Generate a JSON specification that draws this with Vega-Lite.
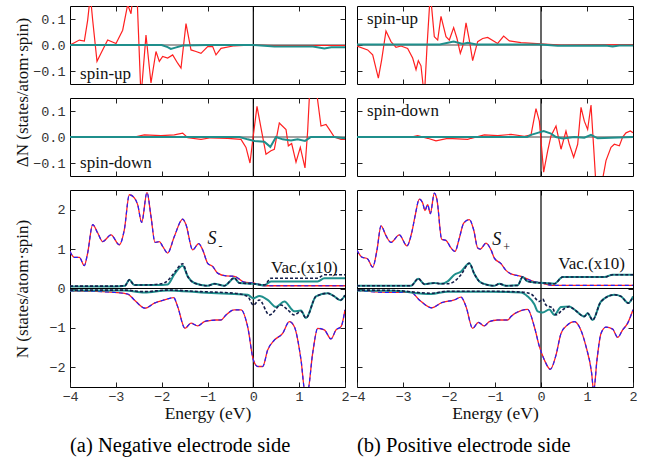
{
"$schema":"https://vega.github.io/schema/vega-lite/v6.json",
"padding":{"left":12,"top":4,"right":5,"bottom":5},
"autosize":{"type":"pad"},
"spacing":-2,
"config":{
 "view":{"stroke":"#000","strokeWidth":1},
 "axis":{"domain":false,"grid":false,"tickSize":-5,"tickColor":"#222","tickWidth":1,"labelFont":"Liberation Mono","labelFontSize":13.5,"labelColor":"#333","labelPadding":10,"labelFlush":false,"labelOverlap":false,"titleFont":"Liberation Serif","titleFontSize":17,"titleFontWeight":"normal","titleColor":"#111"},
 "text":{"font":"Liberation Serif","color":"#111"},
 "title":{"font":"Liberation Serif","fontSize":20.5,"fontWeight":"normal","color":"#000"}
},
"datasets":{"d":[
{"p":"LT","s":"S","x":-4,"y":0},{"p":"LT","s":"S","x":-3.905,"y":0.009},{"p":"LT","s":"S","x":-3.796,"y":0.019},{"p":"LT","s":"S","x":-3.687,"y":0.015},{"p":"LT","s":"S","x":-3.615,"y":0.095},{"p":"LT","s":"S","x":-3.556,"y":0.19},{"p":"LT","s":"S","x":-3.505,"y":0.095},{"p":"LT","s":"S","x":-3.411,"y":-0.063},{"p":"LT","s":"S","x":-3.324,"y":-0.032},{"p":"LT","s":"S","x":-3.178,"y":0.019},{"p":"LT","s":"S","x":-2.996,"y":0.006},{"p":"LT","s":"S","x":-2.851,"y":0.057},{"p":"LT","s":"S","x":-2.742,"y":0.155},{"p":"LT","s":"S","x":-2.669,"y":0.12},{"p":"LT","s":"S","x":-2.62,"y":0.2},{"p":"LT","s":"S","x":-2.54,"y":0.2},{"p":"LT","s":"S","x":-2.451,"y":-0.2},{"p":"LT","s":"S","x":-2.342,"y":0.038},{"p":"LT","s":"S","x":-2.233,"y":-0.146},{"p":"LT","s":"S","x":-2.124,"y":-0.025},{"p":"LT","s":"S","x":-2.051,"y":-0.063},{"p":"LT","s":"S","x":-1.978,"y":-0.044},{"p":"LT","s":"S","x":-1.869,"y":-0.05},{"p":"LT","s":"S","x":-1.76,"y":-0.038},{"p":"LT","s":"S","x":-1.651,"y":-0.07},{"p":"LT","s":"S","x":-1.578,"y":-0.089},{"p":"LT","s":"S","x":-1.469,"y":0.082},{"p":"LT","s":"S","x":-1.36,"y":-0.019},{"p":"LT","s":"S","x":-1.251,"y":-0.025},{"p":"LT","s":"S","x":-1.142,"y":-0.032},{"p":"LT","s":"S","x":-0.996,"y":-0.006},{"p":"LT","s":"S","x":-0.887,"y":-0.006},{"p":"LT","s":"S","x":-0.815,"y":-0.038},{"p":"LT","s":"S","x":-0.705,"y":-0.013},{"p":"LT","s":"S","x":-0.415,"y":-0.003},{"p":"LT","s":"S","x":0,"y":0},{"p":"LT","s":"S","x":0.458,"y":-0.002},{"p":"LT","s":"S","x":2,"y":-0.002},
{"p":"LT","s":"V","x":-4,"y":0},{"p":"LT","s":"V","x":-2,"y":0},{"p":"LT","s":"V","x":-1.87,"y":-0.008},{"p":"LT","s":"V","x":-1.8,"y":-0.015},{"p":"LT","s":"V","x":-1.7,"y":-0.01},{"p":"LT","s":"V","x":-1.54,"y":-0.002},{"p":"LT","s":"V","x":-1,"y":0},{"p":"LT","s":"V","x":0,"y":0},{"p":"LT","s":"V","x":0.46,"y":-0.006},{"p":"LT","s":"V","x":1.3,"y":-0.006},{"p":"LT","s":"V","x":1.55,"y":-0.013},{"p":"LT","s":"V","x":1.7,"y":-0.009},{"p":"LT","s":"V","x":2,"y":-0.009},
{"p":"LM","s":"S","x":-4,"y":0},{"p":"LM","s":"S","x":-2.6,"y":0},{"p":"LM","s":"S","x":-2.378,"y":0.008},{"p":"LM","s":"S","x":-2.015,"y":0.005},{"p":"LM","s":"S","x":-1.724,"y":0.008},{"p":"LM","s":"S","x":-1.542,"y":0.015},{"p":"LM","s":"S","x":-1.433,"y":-0.003},{"p":"LM","s":"S","x":-1.142,"y":-0.009},{"p":"LM","s":"S","x":-0.924,"y":-0.003},{"p":"LM","s":"S","x":-0.56,"y":-0.005},{"p":"LM","s":"S","x":-0.269,"y":-0.009},{"p":"LM","s":"S","x":-0.16,"y":-0.04},{"p":"LM","s":"S","x":-0.073,"y":-0.1},{"p":"LM","s":"S","x":-0.015,"y":-0.015},{"p":"LM","s":"S","x":0.08,"y":0.118},{"p":"LM","s":"S","x":0.167,"y":0.035},{"p":"LM","s":"S","x":0.276,"y":-0.066},{"p":"LM","s":"S","x":0.385,"y":-0.053},{"p":"LM","s":"S","x":0.458,"y":-0.047},{"p":"LM","s":"S","x":0.567,"y":0.054},{"p":"LM","s":"S","x":0.713,"y":0.029},{"p":"LM","s":"S","x":0.764,"y":-0.034},{"p":"LM","s":"S","x":0.836,"y":-0.025},{"p":"LM","s":"S","x":0.931,"y":-0.097},{"p":"LM","s":"S","x":1.025,"y":-0.04},{"p":"LM","s":"S","x":1.127,"y":-0.119},{"p":"LM","s":"S","x":1.185,"y":0.023},{"p":"LM","s":"S","x":1.25,"y":0.25},{"p":"LM","s":"S","x":1.36,"y":0.2},{"p":"LM","s":"S","x":1.476,"y":0.042},{"p":"LM","s":"S","x":1.585,"y":0.048},{"p":"LM","s":"S","x":1.658,"y":0.029},{"p":"LM","s":"S","x":1.767,"y":0},{"p":"LM","s":"S","x":1.913,"y":-0.009},{"p":"LM","s":"S","x":2,"y":-0.009},
{"p":"LM","s":"V","x":-4,"y":0},{"p":"LM","s":"V","x":-0.3,"y":0},{"p":"LM","s":"V","x":-0.124,"y":-0.009},{"p":"LM","s":"V","x":0.022,"y":-0.015},{"p":"LM","s":"V","x":0.24,"y":-0.018},{"p":"LM","s":"V","x":0.371,"y":-0.038},{"p":"LM","s":"V","x":0.495,"y":0},{"p":"LM","s":"V","x":0.64,"y":-0.009},{"p":"LM","s":"V","x":0.822,"y":-0.013},{"p":"LM","s":"V","x":0.967,"y":-0.009},{"p":"LM","s":"V","x":1.127,"y":-0.015},{"p":"LM","s":"V","x":1.258,"y":0},{"p":"LM","s":"V","x":1.767,"y":0},{"p":"LM","s":"V","x":2,"y":-0.005},
{"p":"LB","s":"Su","x":-4,"y":0.94},{"p":"LB","s":"Su","x":-3.905,"y":0.79},{"p":"LB","s":"Su","x":-3.796,"y":0.79},{"p":"LB","s":"Su","x":-3.687,"y":0.58},{"p":"LB","s":"Su","x":-3.615,"y":0.9},{"p":"LB","s":"Su","x":-3.505,"y":1.62},{"p":"LB","s":"Su","x":-3.396,"y":1.41},{"p":"LB","s":"Su","x":-3.287,"y":1.19},{"p":"LB","s":"Su","x":-3.105,"y":1.36},{"p":"LB","s":"Su","x":-2.924,"y":1.11},{"p":"LB","s":"Su","x":-2.815,"y":1.49},{"p":"LB","s":"Su","x":-2.705,"y":2.38},{"p":"LB","s":"Su","x":-2.596,"y":2.3},{"p":"LB","s":"Su","x":-2.524,"y":2.13},{"p":"LB","s":"Su","x":-2.436,"y":1.68},{"p":"LB","s":"Su","x":-2.32,"y":2.44},{"p":"LB","s":"Su","x":-2.233,"y":1.83},{"p":"LB","s":"Su","x":-2.145,"y":1.17},{"p":"LB","s":"Su","x":-2.051,"y":1.19},{"p":"LB","s":"Su","x":-1.978,"y":1.07},{"p":"LB","s":"Su","x":-1.869,"y":0.9},{"p":"LB","s":"Su","x":-1.724,"y":1.32},{"p":"LB","s":"Su","x":-1.542,"y":1.76},{"p":"LB","s":"Su","x":-1.469,"y":1.62},{"p":"LB","s":"Su","x":-1.324,"y":0.98},{"p":"LB","s":"Su","x":-1.193,"y":1.14},{"p":"LB","s":"Su","x":-1.105,"y":0.98},{"p":"LB","s":"Su","x":-0.996,"y":0.64},{"p":"LB","s":"Su","x":-0.887,"y":0.56},{"p":"LB","s":"Su","x":-0.778,"y":0.39},{"p":"LB","s":"Su","x":-0.596,"y":0.32},{"p":"LB","s":"Su","x":-0.415,"y":0.31},{"p":"LB","s":"Su","x":-0.196,"y":0.16},{"p":"LB","s":"Su","x":0,"y":0.14},{"p":"LB","s":"Su","x":0.24,"y":0.07},{"p":"LB","s":"Su","x":2,"y":0.07},
{"p":"LB","s":"Sd","x":-4,"y":-0.06},{"p":"LB","s":"Sd","x":-3.3,"y":-0.08},{"p":"LB","s":"Sd","x":-2.742,"y":-0.14},{"p":"LB","s":"Sd","x":-2.596,"y":-0.29},{"p":"LB","s":"Sd","x":-2.364,"y":-0.5},{"p":"LB","s":"Sd","x":-2.16,"y":-0.37},{"p":"LB","s":"Sd","x":-1.942,"y":-0.29},{"p":"LB","s":"Sd","x":-1.738,"y":-0.23},{"p":"LB","s":"Sd","x":-1.651,"y":-0.46},{"p":"LB","s":"Sd","x":-1.491,"y":-1.01},{"p":"LB","s":"Sd","x":-1.36,"y":-0.88},{"p":"LB","s":"Sd","x":-1.215,"y":-0.95},{"p":"LB","s":"Sd","x":-1.069,"y":-0.84},{"p":"LB","s":"Sd","x":-0.924,"y":-0.81},{"p":"LB","s":"Sd","x":-0.815,"y":-0.8},{"p":"LB","s":"Sd","x":-0.705,"y":-0.8},{"p":"LB","s":"Sd","x":-0.596,"y":-0.67},{"p":"LB","s":"Sd","x":-0.415,"y":-0.54},{"p":"LB","s":"Sd","x":-0.269,"y":-0.54},{"p":"LB","s":"Sd","x":-0.124,"y":-0.97},{"p":"LB","s":"Sd","x":0,"y":-1.81},{"p":"LB","s":"Sd","x":0.095,"y":-1.98},{"p":"LB","s":"Sd","x":0.204,"y":-1.98},{"p":"LB","s":"Sd","x":0.313,"y":-1.56},{"p":"LB","s":"Sd","x":0.458,"y":-1.31},{"p":"LB","s":"Sd","x":0.64,"y":-1.14},{"p":"LB","s":"Sd","x":0.785,"y":-0.84},{"p":"LB","s":"Sd","x":0.895,"y":-0.97},{"p":"LB","s":"Sd","x":1.04,"y":-1.81},{"p":"LB","s":"Sd","x":1.127,"y":-2.6},{"p":"LB","s":"Sd","x":1.185,"y":-2.6},{"p":"LB","s":"Sd","x":1.295,"y":-1.64},{"p":"LB","s":"Sd","x":1.404,"y":-1.01},{"p":"LB","s":"Sd","x":1.549,"y":-1.05},{"p":"LB","s":"Sd","x":1.695,"y":-1.28},{"p":"LB","s":"Sd","x":1.804,"y":-1.05},{"p":"LB","s":"Sd","x":1.913,"y":-0.97},{"p":"LB","s":"Sd","x":2,"y":-0.54},
{"p":"LB","s":"Tu","x":-4,"y":0.05},{"p":"LB","s":"Tu","x":-3,"y":0.05},{"p":"LB","s":"Tu","x":-2.8,"y":0.07},{"p":"LB","s":"Tu","x":-2.705,"y":0.22},{"p":"LB","s":"Tu","x":-2.6,"y":0.09},{"p":"LB","s":"Tu","x":-2.378,"y":0.09},{"p":"LB","s":"Tu","x":-2,"y":0.09},{"p":"LB","s":"Tu","x":-1.869,"y":0.1},{"p":"LB","s":"Tu","x":-1.724,"y":0.36},{"p":"LB","s":"Tu","x":-1.542,"y":0.58},{"p":"LB","s":"Tu","x":-1.433,"y":0.31},{"p":"LB","s":"Tu","x":-1.287,"y":0.14},{"p":"LB","s":"Tu","x":-0.996,"y":0.07},{"p":"LB","s":"Tu","x":-0.851,"y":0.12},{"p":"LB","s":"Tu","x":-0.633,"y":0.07},{"p":"LB","s":"Tu","x":-0.415,"y":0.26},{"p":"LB","s":"Tu","x":-0.305,"y":0.14},{"p":"LB","s":"Tu","x":0,"y":0.12},{"p":"LB","s":"Tu","x":0.24,"y":0.08},{"p":"LB","s":"Tu","x":0.385,"y":0.18},{"p":"LB","s":"Tu","x":1.404,"y":0.18},{"p":"LB","s":"Tu","x":1.549,"y":0.26},{"p":"LB","s":"Tu","x":2,"y":0.26},
{"p":"LB","s":"Nu","x":-4,"y":0.06},{"p":"LB","s":"Nu","x":-3,"y":0.06},{"p":"LB","s":"Nu","x":-2.8,"y":0.07},{"p":"LB","s":"Nu","x":-2.705,"y":0.22},{"p":"LB","s":"Nu","x":-2.6,"y":0.09},{"p":"LB","s":"Nu","x":-2.378,"y":0.09},{"p":"LB","s":"Nu","x":-2,"y":0.12},{"p":"LB","s":"Nu","x":-1.869,"y":0.2},{"p":"LB","s":"Nu","x":-1.724,"y":0.4},{"p":"LB","s":"Nu","x":-1.542,"y":0.63},{"p":"LB","s":"Nu","x":-1.433,"y":0.31},{"p":"LB","s":"Nu","x":-1.287,"y":0.14},{"p":"LB","s":"Nu","x":-0.996,"y":0.07},{"p":"LB","s":"Nu","x":-0.851,"y":0.12},{"p":"LB","s":"Nu","x":-0.633,"y":0.07},{"p":"LB","s":"Nu","x":-0.415,"y":0.27},{"p":"LB","s":"Nu","x":-0.305,"y":0.14},{"p":"LB","s":"Nu","x":0,"y":0.12},{"p":"LB","s":"Nu","x":0.24,"y":0.09},{"p":"LB","s":"Nu","x":0.385,"y":0.26},{"p":"LB","s":"Nu","x":1.404,"y":0.26},{"p":"LB","s":"Nu","x":1.549,"y":0.35},{"p":"LB","s":"Nu","x":2,"y":0.35},
{"p":"LB","s":"Td","x":-4,"y":-0.05},{"p":"LB","s":"Td","x":-2.815,"y":-0.05},{"p":"LB","s":"Td","x":-2.378,"y":-0.1},{"p":"LB","s":"Td","x":-1.869,"y":-0.05},{"p":"LB","s":"Td","x":-1.142,"y":-0.1},{"p":"LB","s":"Td","x":-0.415,"y":-0.14},{"p":"LB","s":"Td","x":-0.124,"y":-0.16},{"p":"LB","s":"Td","x":0,"y":-0.25},{"p":"LB","s":"Td","x":0.131,"y":-0.19},{"p":"LB","s":"Td","x":0.313,"y":-0.29},{"p":"LB","s":"Td","x":0.495,"y":-0.47},{"p":"LB","s":"Td","x":0.676,"y":-0.33},{"p":"LB","s":"Td","x":0.895,"y":-0.58},{"p":"LB","s":"Td","x":1.04,"y":-0.56},{"p":"LB","s":"Td","x":1.149,"y":-0.75},{"p":"LB","s":"Td","x":1.367,"y":-0.2},{"p":"LB","s":"Td","x":1.622,"y":-0.12},{"p":"LB","s":"Td","x":1.767,"y":-0.2},{"p":"LB","s":"Td","x":1.898,"y":-0.3},{"p":"LB","s":"Td","x":2,"y":-0.17},
{"p":"LB","s":"Nd","x":-4,"y":-0.04},{"p":"LB","s":"Nd","x":-2.815,"y":-0.04},{"p":"LB","s":"Nd","x":-2.378,"y":-0.08},{"p":"LB","s":"Nd","x":-1.869,"y":-0.04},{"p":"LB","s":"Nd","x":-1.142,"y":-0.08},{"p":"LB","s":"Nd","x":-0.415,"y":-0.12},{"p":"LB","s":"Nd","x":-0.124,"y":-0.2},{"p":"LB","s":"Nd","x":0,"y":-0.42},{"p":"LB","s":"Nd","x":0.131,"y":-0.29},{"p":"LB","s":"Nd","x":0.349,"y":-0.67},{"p":"LB","s":"Nd","x":0.604,"y":-0.42},{"p":"LB","s":"Nd","x":0.749,"y":-0.54},{"p":"LB","s":"Nd","x":0.895,"y":-0.67},{"p":"LB","s":"Nd","x":1.04,"y":-0.58},{"p":"LB","s":"Nd","x":1.149,"y":-0.75},{"p":"LB","s":"Nd","x":1.367,"y":-0.2},{"p":"LB","s":"Nd","x":1.622,"y":-0.12},{"p":"LB","s":"Nd","x":1.767,"y":-0.2},{"p":"LB","s":"Nd","x":1.898,"y":-0.3},{"p":"LB","s":"Nd","x":2,"y":-0.17},
{"p":"RT","s":"S","x":-4,"y":-0.004},{"p":"RT","s":"S","x":-3.768,"y":-0.019},{"p":"RT","s":"S","x":-3.659,"y":-0.038},{"p":"RT","s":"S","x":-3.536,"y":-0.127},{"p":"RT","s":"S","x":-3.464,"y":-0.057},{"p":"RT","s":"S","x":-3.37,"y":0.054},{"p":"RT","s":"S","x":-3.261,"y":0.013},{"p":"RT","s":"S","x":-3.152,"y":-0.009},{"p":"RT","s":"S","x":-3.043,"y":-0.004},{"p":"RT","s":"S","x":-2.899,"y":-0.013},{"p":"RT","s":"S","x":-2.79,"y":-0.05},{"p":"RT","s":"S","x":-2.717,"y":-0.095},{"p":"RT","s":"S","x":-2.667,"y":-0.06},{"p":"RT","s":"S","x":-2.609,"y":-0.08},{"p":"RT","s":"S","x":-2.536,"y":-0.2},{"p":"RT","s":"S","x":-2.478,"y":-0.006},{"p":"RT","s":"S","x":-2.406,"y":0.2},{"p":"RT","s":"S","x":-2.319,"y":0.032},{"p":"RT","s":"S","x":-2.246,"y":0.019},{"p":"RT","s":"S","x":-2.174,"y":0.11},{"p":"RT","s":"S","x":-2.065,"y":0.032},{"p":"RT","s":"S","x":-1.993,"y":0.019},{"p":"RT","s":"S","x":-1.899,"y":0.067},{"p":"RT","s":"S","x":-1.826,"y":0.025},{"p":"RT","s":"S","x":-1.754,"y":-0.032},{"p":"RT","s":"S","x":-1.703,"y":-0.006},{"p":"RT","s":"S","x":-1.63,"y":0.085},{"p":"RT","s":"S","x":-1.558,"y":0.019},{"p":"RT","s":"S","x":-1.486,"y":-0.06},{"p":"RT","s":"S","x":-1.377,"y":0.013},{"p":"RT","s":"S","x":-1.268,"y":0.025},{"p":"RT","s":"S","x":-1.159,"y":0.029},{"p":"RT","s":"S","x":-0.942,"y":0.006},{"p":"RT","s":"S","x":-0.812,"y":0.034},{"p":"RT","s":"S","x":-0.688,"y":0.016},{"p":"RT","s":"S","x":-0.435,"y":0.009},{"p":"RT","s":"S","x":0,"y":0.004},{"p":"RT","s":"S","x":0.435,"y":0},{"p":"RT","s":"S","x":2,"y":0.002},
{"p":"RT","s":"V","x":-4,"y":0.002},{"p":"RT","s":"V","x":-2.2,"y":0.002},{"p":"RT","s":"V","x":-1.899,"y":0.013},{"p":"RT","s":"V","x":-1.7,"y":0.004},{"p":"RT","s":"V","x":-1.594,"y":0.009},{"p":"RT","s":"V","x":-1.4,"y":0.002},{"p":"RT","s":"V","x":0,"y":0.002},{"p":"RT","s":"V","x":0.362,"y":-0.003},{"p":"RT","s":"V","x":1.4,"y":-0.002},{"p":"RT","s":"V","x":1.558,"y":-0.006},{"p":"RT","s":"V","x":1.7,"y":-0.002},{"p":"RT","s":"V","x":2,"y":-0.002},
{"p":"RM","s":"S","x":-4,"y":0},{"p":"RM","s":"S","x":-2.826,"y":0},{"p":"RM","s":"S","x":-2.681,"y":0.005},{"p":"RM","s":"S","x":-2.464,"y":-0.005},{"p":"RM","s":"S","x":-2.283,"y":-0.015},{"p":"RM","s":"S","x":-2.029,"y":-0.005},{"p":"RM","s":"S","x":-1.594,"y":-0.009},{"p":"RM","s":"S","x":-1.522,"y":-0.005},{"p":"RM","s":"S","x":-1.232,"y":0.008},{"p":"RM","s":"S","x":-0.942,"y":0.005},{"p":"RM","s":"S","x":-0.652,"y":0.01},{"p":"RM","s":"S","x":-0.362,"y":0.003},{"p":"RM","s":"S","x":-0.217,"y":0.008},{"p":"RM","s":"S","x":-0.109,"y":0.109},{"p":"RM","s":"S","x":-0.036,"y":0.061},{"p":"RM","s":"S","x":0.058,"y":-0.135},{"p":"RM","s":"S","x":0.145,"y":-0.053},{"p":"RM","s":"S","x":0.217,"y":0.004},{"p":"RM","s":"S","x":0.326,"y":0.042},{"p":"RM","s":"S","x":0.435,"y":-0.047},{"p":"RM","s":"S","x":0.543,"y":0.023},{"p":"RM","s":"S","x":0.616,"y":-0.028},{"p":"RM","s":"S","x":0.71,"y":-0.078},{"p":"RM","s":"S","x":0.797,"y":-0.028},{"p":"RM","s":"S","x":0.87,"y":0.114},{"p":"RM","s":"S","x":0.942,"y":0.061},{"p":"RM","s":"S","x":1.014,"y":0.029},{"p":"RM","s":"S","x":1.087,"y":0.123},{"p":"RM","s":"S","x":1.145,"y":-0.04},{"p":"RM","s":"S","x":1.2,"y":-0.2},{"p":"RM","s":"S","x":1.3,"y":-0.2},{"p":"RM","s":"S","x":1.413,"y":-0.091},{"p":"RM","s":"S","x":1.522,"y":-0.04},{"p":"RM","s":"S","x":1.594,"y":-0.028},{"p":"RM","s":"S","x":1.703,"y":-0.034},{"p":"RM","s":"S","x":1.775,"y":0},{"p":"RM","s":"S","x":1.848,"y":0.016},{"p":"RM","s":"S","x":1.942,"y":0.023},{"p":"RM","s":"S","x":2,"y":0.016},
{"p":"RM","s":"V","x":-4,"y":0},{"p":"RM","s":"V","x":-0.3,"y":0},{"p":"RM","s":"V","x":-0.217,"y":0.008},{"p":"RM","s":"V","x":-0.072,"y":0.016},{"p":"RM","s":"V","x":0.058,"y":0.023},{"p":"RM","s":"V","x":0.217,"y":0.013},{"p":"RM","s":"V","x":0.326,"y":0},{"p":"RM","s":"V","x":0.471,"y":-0.006},{"p":"RM","s":"V","x":0.725,"y":0},{"p":"RM","s":"V","x":0.942,"y":-0.003},{"p":"RM","s":"V","x":1.087,"y":0.008},{"p":"RM","s":"V","x":1.232,"y":-0.005},{"p":"RM","s":"V","x":1.522,"y":-0.003},{"p":"RM","s":"V","x":2,"y":0},
{"p":"RB","s":"Su","x":-4,"y":0.97},{"p":"RB","s":"Su","x":-3.899,"y":0.8},{"p":"RB","s":"Su","x":-3.768,"y":0.75},{"p":"RB","s":"Su","x":-3.659,"y":0.54},{"p":"RB","s":"Su","x":-3.565,"y":0.98},{"p":"RB","s":"Su","x":-3.478,"y":1.59},{"p":"RB","s":"Su","x":-3.37,"y":1.34},{"p":"RB","s":"Su","x":-3.261,"y":1.17},{"p":"RB","s":"Su","x":-3.08,"y":1.36},{"p":"RB","s":"Su","x":-2.913,"y":1.08},{"p":"RB","s":"Su","x":-2.812,"y":1.41},{"p":"RB","s":"Su","x":-2.739,"y":1.83},{"p":"RB","s":"Su","x":-2.645,"y":2.27},{"p":"RB","s":"Su","x":-2.572,"y":2.17},{"p":"RB","s":"Su","x":-2.522,"y":1.98},{"p":"RB","s":"Su","x":-2.464,"y":2.13},{"p":"RB","s":"Su","x":-2.406,"y":1.9},{"p":"RB","s":"Su","x":-2.319,"y":2.42},{"p":"RB","s":"Su","x":-2.261,"y":2.25},{"p":"RB","s":"Su","x":-2.159,"y":1.25},{"p":"RB","s":"Su","x":-2.065,"y":1.22},{"p":"RB","s":"Su","x":-1.957,"y":1.03},{"p":"RB","s":"Su","x":-1.87,"y":0.94},{"p":"RB","s":"Su","x":-1.775,"y":1.28},{"p":"RB","s":"Su","x":-1.681,"y":1.66},{"p":"RB","s":"Su","x":-1.558,"y":1.75},{"p":"RB","s":"Su","x":-1.464,"y":1.49},{"p":"RB","s":"Su","x":-1.377,"y":1.03},{"p":"RB","s":"Su","x":-1.319,"y":1.0},{"p":"RB","s":"Su","x":-1.196,"y":1.15},{"p":"RB","s":"Su","x":-1.087,"y":0.98},{"p":"RB","s":"Su","x":-1.014,"y":0.77},{"p":"RB","s":"Su","x":-0.87,"y":0.63},{"p":"RB","s":"Su","x":-0.761,"y":0.46},{"p":"RB","s":"Su","x":-0.652,"y":0.37},{"p":"RB","s":"Su","x":-0.435,"y":0.31},{"p":"RB","s":"Su","x":-0.217,"y":0.2},{"p":"RB","s":"Su","x":0,"y":0.14},{"p":"RB","s":"Su","x":0.29,"y":0.08},{"p":"RB","s":"Su","x":2,"y":0.08},
{"p":"RB","s":"Sd","x":-4,"y":-0.05},{"p":"RB","s":"Sd","x":-3.333,"y":-0.1},{"p":"RB","s":"Sd","x":-2.826,"y":-0.1},{"p":"RB","s":"Sd","x":-2.645,"y":-0.29},{"p":"RB","s":"Sd","x":-2.377,"y":-0.49},{"p":"RB","s":"Sd","x":-2.159,"y":-0.36},{"p":"RB","s":"Sd","x":-1.884,"y":-0.29},{"p":"RB","s":"Sd","x":-1.739,"y":-0.22},{"p":"RB","s":"Sd","x":-1.63,"y":-0.46},{"p":"RB","s":"Sd","x":-1.486,"y":-1.01},{"p":"RB","s":"Sd","x":-1.362,"y":-0.86},{"p":"RB","s":"Sd","x":-1.232,"y":-0.95},{"p":"RB","s":"Sd","x":-1.123,"y":-0.84},{"p":"RB","s":"Sd","x":-0.942,"y":-0.8},{"p":"RB","s":"Sd","x":-0.725,"y":-0.8},{"p":"RB","s":"Sd","x":-0.652,"y":-0.71},{"p":"RB","s":"Sd","x":-0.435,"y":-0.56},{"p":"RB","s":"Sd","x":-0.29,"y":-0.53},{"p":"RB","s":"Sd","x":-0.145,"y":-0.97},{"p":"RB","s":"Sd","x":-0.036,"y":-1.47},{"p":"RB","s":"Sd","x":0.072,"y":-1.81},{"p":"RB","s":"Sd","x":0.203,"y":-2.05},{"p":"RB","s":"Sd","x":0.326,"y":-1.69},{"p":"RB","s":"Sd","x":0.435,"y":-1.14},{"p":"RB","s":"Sd","x":0.58,"y":-0.92},{"p":"RB","s":"Sd","x":0.725,"y":-0.84},{"p":"RB","s":"Sd","x":0.833,"y":-0.97},{"p":"RB","s":"Sd","x":0.978,"y":-1.47},{"p":"RB","s":"Sd","x":1.101,"y":-2.15},{"p":"RB","s":"Sd","x":1.145,"y":-2.6},{"p":"RB","s":"Sd","x":1.217,"y":-1.81},{"p":"RB","s":"Sd","x":1.304,"y":-1.14},{"p":"RB","s":"Sd","x":1.413,"y":-0.98},{"p":"RB","s":"Sd","x":1.558,"y":-1.03},{"p":"RB","s":"Sd","x":1.667,"y":-1.24},{"p":"RB","s":"Sd","x":1.775,"y":-1.05},{"p":"RB","s":"Sd","x":1.884,"y":-0.88},{"p":"RB","s":"Sd","x":2,"y":-0.54},
{"p":"RB","s":"Tu","x":-4,"y":0.07},{"p":"RB","s":"Tu","x":-2.826,"y":0.07},{"p":"RB","s":"Tu","x":-2.667,"y":0.25},{"p":"RB","s":"Tu","x":-2.536,"y":0.11},{"p":"RB","s":"Tu","x":-2.319,"y":0.14},{"p":"RB","s":"Tu","x":-2.174,"y":0.12},{"p":"RB","s":"Tu","x":-2.029,"y":0.18},{"p":"RB","s":"Tu","x":-1.884,"y":0.35},{"p":"RB","s":"Tu","x":-1.739,"y":0.43},{"p":"RB","s":"Tu","x":-1.558,"y":0.64},{"p":"RB","s":"Tu","x":-1.449,"y":0.37},{"p":"RB","s":"Tu","x":-1.341,"y":0.18},{"p":"RB","s":"Tu","x":-1.159,"y":0.09},{"p":"RB","s":"Tu","x":-1.014,"y":0.07},{"p":"RB","s":"Tu","x":-0.906,"y":0.12},{"p":"RB","s":"Tu","x":-0.761,"y":0.07},{"p":"RB","s":"Tu","x":-0.507,"y":0.08},{"p":"RB","s":"Tu","x":-0.399,"y":0.29},{"p":"RB","s":"Tu","x":-0.29,"y":0.18},{"p":"RB","s":"Tu","x":-0.109,"y":0.15},{"p":"RB","s":"Tu","x":0.072,"y":0.14},{"p":"RB","s":"Tu","x":0.29,"y":0.12},{"p":"RB","s":"Tu","x":0.471,"y":0.29},{"p":"RB","s":"Tu","x":1.377,"y":0.29},{"p":"RB","s":"Tu","x":1.558,"y":0.35},{"p":"RB","s":"Tu","x":2,"y":0.35},
{"p":"RB","s":"Nu","x":-4,"y":0.07},{"p":"RB","s":"Nu","x":-2.826,"y":0.07},{"p":"RB","s":"Nu","x":-2.667,"y":0.25},{"p":"RB","s":"Nu","x":-2.536,"y":0.11},{"p":"RB","s":"Nu","x":-2.319,"y":0.14},{"p":"RB","s":"Nu","x":-2.174,"y":0.12},{"p":"RB","s":"Nu","x":-2.029,"y":0.12},{"p":"RB","s":"Nu","x":-1.884,"y":0.18},{"p":"RB","s":"Nu","x":-1.739,"y":0.35},{"p":"RB","s":"Nu","x":-1.558,"y":0.64},{"p":"RB","s":"Nu","x":-1.449,"y":0.37},{"p":"RB","s":"Nu","x":-1.341,"y":0.18},{"p":"RB","s":"Nu","x":-1.159,"y":0.09},{"p":"RB","s":"Nu","x":-1.014,"y":0.07},{"p":"RB","s":"Nu","x":-0.906,"y":0.12},{"p":"RB","s":"Nu","x":-0.761,"y":0.07},{"p":"RB","s":"Nu","x":-0.507,"y":0.08},{"p":"RB","s":"Nu","x":-0.399,"y":0.29},{"p":"RB","s":"Nu","x":-0.29,"y":0.18},{"p":"RB","s":"Nu","x":-0.109,"y":0.15},{"p":"RB","s":"Nu","x":0.072,"y":0.14},{"p":"RB","s":"Nu","x":0.29,"y":0.12},{"p":"RB","s":"Nu","x":0.471,"y":0.29},{"p":"RB","s":"Nu","x":1.377,"y":0.29},{"p":"RB","s":"Nu","x":1.558,"y":0.35},{"p":"RB","s":"Nu","x":2,"y":0.35},
{"p":"RB","s":"Td","x":-4,"y":-0.05},{"p":"RB","s":"Td","x":-3.2,"y":-0.06},{"p":"RB","s":"Td","x":-2.391,"y":-0.14},{"p":"RB","s":"Td","x":-2.029,"y":-0.08},{"p":"RB","s":"Td","x":-1.159,"y":-0.08},{"p":"RB","s":"Td","x":-0.435,"y":-0.1},{"p":"RB","s":"Td","x":-0.29,"y":-0.2},{"p":"RB","s":"Td","x":-0.145,"y":-0.4},{"p":"RB","s":"Td","x":-0.072,"y":-0.58},{"p":"RB","s":"Td","x":0.036,"y":-0.61},{"p":"RB","s":"Td","x":0.181,"y":-0.53},{"p":"RB","s":"Td","x":0.29,"y":-0.67},{"p":"RB","s":"Td","x":0.435,"y":-0.47},{"p":"RB","s":"Td","x":0.616,"y":-0.46},{"p":"RB","s":"Td","x":0.71,"y":-0.52},{"p":"RB","s":"Td","x":0.942,"y":-0.71},{"p":"RB","s":"Td","x":1.014,"y":-0.63},{"p":"RB","s":"Td","x":1.123,"y":-0.8},{"p":"RB","s":"Td","x":1.304,"y":-0.33},{"p":"RB","s":"Td","x":1.594,"y":-0.16},{"p":"RB","s":"Td","x":1.739,"y":-0.2},{"p":"RB","s":"Td","x":1.899,"y":-0.37},{"p":"RB","s":"Td","x":2,"y":-0.2},
{"p":"RB","s":"Nd","x":-4,"y":-0.04},{"p":"RB","s":"Nd","x":-3.2,"y":-0.05},{"p":"RB","s":"Nd","x":-2.391,"y":-0.12},{"p":"RB","s":"Nd","x":-2.029,"y":-0.07},{"p":"RB","s":"Nd","x":-1.159,"y":-0.07},{"p":"RB","s":"Nd","x":-0.435,"y":-0.09},{"p":"RB","s":"Nd","x":-0.217,"y":-0.14},{"p":"RB","s":"Nd","x":-0.036,"y":-0.33},{"p":"RB","s":"Nd","x":0.036,"y":-0.27},{"p":"RB","s":"Nd","x":0.109,"y":-0.42},{"p":"RB","s":"Nd","x":0.254,"y":-0.5},{"p":"RB","s":"Nd","x":0.326,"y":-0.67},{"p":"RB","s":"Nd","x":0.471,"y":-0.54},{"p":"RB","s":"Nd","x":0.616,"y":-0.46},{"p":"RB","s":"Nd","x":0.71,"y":-0.52},{"p":"RB","s":"Nd","x":0.942,"y":-0.71},{"p":"RB","s":"Nd","x":1.014,"y":-0.63},{"p":"RB","s":"Nd","x":1.123,"y":-0.8},{"p":"RB","s":"Nd","x":1.304,"y":-0.33},{"p":"RB","s":"Nd","x":1.594,"y":-0.16},{"p":"RB","s":"Nd","x":1.739,"y":-0.2},{"p":"RB","s":"Nd","x":1.899,"y":-0.37},{"p":"RB","s":"Nd","x":2,"y":-0.2}
]},
"hconcat":[
{"vconcat":[
 {"width":275,"height":78,"resolve":{"axis":{"x":"independent","y":"independent"}},"layer":[
  {"data":{"values":[{}]},"mark":{"type":"rule","color":"#444","strokeWidth":1},"encoding":{"y":{"datum":0,"type":"quantitative","scale":{"domain":[-0.15,0.15],"nice":false},"axis":null}}},
  {"data":{"values":[{}]},"mark":{"type":"rule","color":"#000","strokeWidth":1.2},"encoding":{"x":{"datum":0,"type":"quantitative","scale":{"domain":[-4,2],"nice":false,"zero":false},"axis":null}}},
  {"data":{"name":"d"},"transform":[{"filter":"datum.p==='LT'&&datum.s==='S'"}],"mark":{"type":"line","color":"#ff2020","strokeWidth":1.2,"clip":true},"encoding":{"x":{"field":"x","type":"quantitative","scale":{"domain":[-4,2],"nice":false,"zero":false},"axis":{"values":[-3,-2,-1,0,1],"labels":false,"title":null}},"y":{"field":"y","type":"quantitative","scale":{"domain":[-0.15,0.15],"nice":false},"axis":{"values":[-0.1,0,0.1],"format":".1f","title":"ΔN (states/atom·spin)","titleX":-48,"titleY":86,"titleAlign":"center","titleBaseline":"middle"}}}},
  {"data":{"name":"d"},"transform":[{"filter":"datum.p==='LT'&&datum.s==='V'"}],"mark":{"type":"line","color":"#1f8f8c","strokeWidth":2,"clip":true},"encoding":{"x":{"field":"x","type":"quantitative","scale":{"domain":[-4,2],"nice":false,"zero":false},"axis":null},"y":{"field":"y","type":"quantitative","scale":{"domain":[-0.15,0.15],"nice":false},"axis":null}}},
  {"data":{"values":[{}]},"mark":{"type":"text","fontSize":17,"align":"left","baseline":"middle"},"encoding":{"x":{"datum":-3.78,"type":"quantitative","scale":{"domain":[-4,2],"nice":false,"zero":false},"axis":null},"y":{"datum":-0.11,"type":"quantitative","scale":{"domain":[-0.15,0.15],"nice":false},"axis":null},"text":{"value":"spin-up"}}},
  {"data":{"values":[{}]},"mark":{"type":"point","opacity":0},"encoding":{"x":{"datum":0,"type":"quantitative","scale":{"domain":[-4,2],"nice":false,"zero":false},"axis":{"orient":"top","values":[-3,-2,-1,0,1],"labels":false,"title":null}},"y":{"datum":0,"type":"quantitative","scale":{"domain":[-0.15,0.15],"nice":false},"axis":{"orient":"right","values":[-0.1,0,0.1],"labels":false,"title":null}}}}
 ]},
 {"width":275,"height":78,"resolve":{"axis":{"x":"independent","y":"independent"}},"layer":[
  {"data":{"values":[{}]},"mark":{"type":"rule","color":"#444","strokeWidth":1},"encoding":{"y":{"datum":0,"type":"quantitative","scale":{"domain":[-0.15,0.15],"nice":false},"axis":null}}},
  {"data":{"values":[{}]},"mark":{"type":"rule","color":"#000","strokeWidth":1.2},"encoding":{"x":{"datum":0,"type":"quantitative","scale":{"domain":[-4,2],"nice":false,"zero":false},"axis":null}}},
  {"data":{"name":"d"},"transform":[{"filter":"datum.p==='LM'&&datum.s==='S'"}],"mark":{"type":"line","color":"#ff2020","strokeWidth":1.2,"clip":true},"encoding":{"x":{"field":"x","type":"quantitative","scale":{"domain":[-4,2],"nice":false,"zero":false},"axis":{"values":[-3,-2,-1,0,1],"labels":false,"title":null}},"y":{"field":"y","type":"quantitative","scale":{"domain":[-0.15,0.15],"nice":false},"axis":{"values":[-0.1,0,0.1],"format":".1f","title":null}}}},
  {"data":{"name":"d"},"transform":[{"filter":"datum.p==='LM'&&datum.s==='V'"}],"mark":{"type":"line","color":"#1f8f8c","strokeWidth":2,"clip":true},"encoding":{"x":{"field":"x","type":"quantitative","scale":{"domain":[-4,2],"nice":false,"zero":false},"axis":null},"y":{"field":"y","type":"quantitative","scale":{"domain":[-0.15,0.15],"nice":false},"axis":null}}},
  {"data":{"values":[{}]},"mark":{"type":"text","fontSize":17,"align":"left","baseline":"middle"},"encoding":{"x":{"datum":-3.78,"type":"quantitative","scale":{"domain":[-4,2],"nice":false,"zero":false},"axis":null},"y":{"datum":-0.1,"type":"quantitative","scale":{"domain":[-0.15,0.15],"nice":false},"axis":null},"text":{"value":"spin-down"}}},
  {"data":{"values":[{}]},"mark":{"type":"point","opacity":0},"encoding":{"x":{"datum":0,"type":"quantitative","scale":{"domain":[-4,2],"nice":false,"zero":false},"axis":{"orient":"top","values":[-3,-2,-1,0,1],"labels":false,"title":null}},"y":{"datum":0,"type":"quantitative","scale":{"domain":[-0.15,0.15],"nice":false},"axis":{"orient":"right","values":[-0.1,0,0.1],"labels":false,"title":null}}}}
 ]},
 {"width":275,"height":197,"resolve":{"axis":{"x":"independent","y":"independent"}},"layer":[
  {"data":{"values":[{}]},"mark":{"type":"rule","color":"#000","strokeWidth":1.2},"encoding":{"y":{"datum":0,"type":"quantitative","scale":{"domain":[-2.5,2.5],"nice":false},"axis":null}}},
  {"data":{"values":[{}]},"mark":{"type":"rule","color":"#000","strokeWidth":1.2},"encoding":{"x":{"datum":0,"type":"quantitative","scale":{"domain":[-4,2],"nice":false,"zero":false},"axis":null}}},
  {"data":{"name":"d"},"transform":[{"filter":"datum.p==='LB'&&(datum.s==='Su'||datum.s==='Sd')"}],"mark":{"type":"line","color":"#ff2020","strokeWidth":1.3,"clip":true,"interpolate":"monotone"},"encoding":{"detail":{"field":"s"},"x":{"field":"x","type":"quantitative","scale":{"domain":[-4,2],"nice":false,"zero":false},"axis":{"values":[-4,-3,-2,-1,0,1,2],"format":"d","labelPadding":7,"title":"Energy (eV)","titlePadding":2,"titleFontSize":17.5}},"y":{"field":"y","type":"quantitative","scale":{"domain":[-2.5,2.5],"nice":false},"axis":{"values":[-2,-1,0,1,2],"format":"d","title":"N (states/atom·spin)","titleX":-48,"titleAlign":"center","titleBaseline":"middle"}}}},
  {"data":{"name":"d"},"transform":[{"filter":"datum.p==='LB'&&(datum.s==='Su'||datum.s==='Sd')"}],"mark":{"type":"line","color":"#2020ff","strokeWidth":1.2,"strokeDash":[4,3],"clip":true,"interpolate":"monotone"},"encoding":{"detail":{"field":"s"},"x":{"field":"x","type":"quantitative","scale":{"domain":[-4,2],"nice":false,"zero":false},"axis":null},"y":{"field":"y","type":"quantitative","scale":{"domain":[-2.5,2.5],"nice":false},"axis":null}}},
  {"data":{"name":"d"},"transform":[{"filter":"datum.p==='LB'&&(datum.s==='Tu'||datum.s==='Td')"}],"mark":{"type":"line","color":"#1f8f8c","strokeWidth":2,"clip":true,"interpolate":"monotone"},"encoding":{"detail":{"field":"s"},"x":{"field":"x","type":"quantitative","scale":{"domain":[-4,2],"nice":false,"zero":false},"axis":null},"y":{"field":"y","type":"quantitative","scale":{"domain":[-2.5,2.5],"nice":false},"axis":null}}},
  {"data":{"name":"d"},"transform":[{"filter":"datum.p==='LB'&&(datum.s==='Nu'||datum.s==='Nd')"}],"mark":{"type":"line","color":"#141e4a","strokeWidth":1.6,"strokeDash":[3,2],"clip":true,"interpolate":"monotone"},"encoding":{"detail":{"field":"s"},"x":{"field":"x","type":"quantitative","scale":{"domain":[-4,2],"nice":false,"zero":false},"axis":null},"y":{"field":"y","type":"quantitative","scale":{"domain":[-2.5,2.5],"nice":false},"axis":null}}},
  {"data":{"values":[{}]},"mark":{"type":"text","fontSize":18,"fontStyle":"italic","align":"left","baseline":"middle"},"encoding":{"x":{"datum":-1.0,"type":"quantitative","scale":{"domain":[-4,2],"nice":false,"zero":false},"axis":null},"y":{"datum":1.25,"type":"quantitative","scale":{"domain":[-2.5,2.5],"nice":false},"axis":null},"text":{"value":"S"}}},
  {"data":{"values":[{}]},"mark":{"type":"text","fontSize":12,"align":"left","baseline":"middle","dx":11,"dy":7},"encoding":{"x":{"datum":-1.0,"type":"quantitative","scale":{"domain":[-4,2],"nice":false,"zero":false},"axis":null},"y":{"datum":1.25,"type":"quantitative","scale":{"domain":[-2.5,2.5],"nice":false},"axis":null},"text":{"value":"-"}}},
  {"data":{"values":[{}]},"mark":{"type":"text","fontSize":17,"align":"left","baseline":"middle"},"encoding":{"x":{"datum":0.386,"type":"quantitative","scale":{"domain":[-4,2],"nice":false,"zero":false},"axis":null},"y":{"datum":0.53,"type":"quantitative","scale":{"domain":[-2.5,2.5],"nice":false},"axis":null},"text":{"value":"Vac.(x10)"}}},
  {"data":{"values":[{}]},"mark":{"type":"point","opacity":0},"encoding":{"x":{"datum":0,"type":"quantitative","scale":{"domain":[-4,2],"nice":false,"zero":false},"axis":{"orient":"top","values":[-3,-2,-1,0,1],"labels":false,"title":null}},"y":{"datum":0,"type":"quantitative","scale":{"domain":[-2.5,2.5],"nice":false},"axis":{"orient":"right","values":[-2,-1,0,1,2],"labels":false,"title":null}}}}
 ]}
],"spacing":14,"bounds":"flush","title":{"text":"(a) Negative electrode side","orient":"bottom","offset":13,"frame":"group"}},
{"vconcat":[
 {"width":276,"height":78,"resolve":{"axis":{"x":"independent","y":"independent"}},"layer":[
  {"data":{"values":[{}]},"mark":{"type":"rule","color":"#444","strokeWidth":1},"encoding":{"y":{"datum":0,"type":"quantitative","scale":{"domain":[-0.15,0.15],"nice":false},"axis":null}}},
  {"data":{"values":[{}]},"mark":{"type":"rule","color":"#000","strokeWidth":1.2},"encoding":{"x":{"datum":0,"type":"quantitative","scale":{"domain":[-4,2],"nice":false,"zero":false},"axis":null}}},
  {"data":{"name":"d"},"transform":[{"filter":"datum.p==='RT'&&datum.s==='S'"}],"mark":{"type":"line","color":"#ff2020","strokeWidth":1.2,"clip":true},"encoding":{"x":{"field":"x","type":"quantitative","scale":{"domain":[-4,2],"nice":false,"zero":false},"axis":{"values":[-3,-2,-1,0,1],"labels":false,"title":null}},"y":{"field":"y","type":"quantitative","scale":{"domain":[-0.15,0.15],"nice":false},"axis":{"values":[-0.1,0,0.1],"labels":false,"title":null}}}},
  {"data":{"name":"d"},"transform":[{"filter":"datum.p==='RT'&&datum.s==='V'"}],"mark":{"type":"line","color":"#1f8f8c","strokeWidth":2,"clip":true},"encoding":{"x":{"field":"x","type":"quantitative","scale":{"domain":[-4,2],"nice":false,"zero":false},"axis":null},"y":{"field":"y","type":"quantitative","scale":{"domain":[-0.15,0.15],"nice":false},"axis":null}}},
  {"data":{"values":[{}]},"mark":{"type":"text","fontSize":17,"align":"left","baseline":"middle"},"encoding":{"x":{"datum":-3.78,"type":"quantitative","scale":{"domain":[-4,2],"nice":false,"zero":false},"axis":null},"y":{"datum":0.1,"type":"quantitative","scale":{"domain":[-0.15,0.15],"nice":false},"axis":null},"text":{"value":"spin-up"}}},
  {"data":{"values":[{}]},"mark":{"type":"point","opacity":0},"encoding":{"x":{"datum":0,"type":"quantitative","scale":{"domain":[-4,2],"nice":false,"zero":false},"axis":{"orient":"top","values":[-3,-2,-1,0,1],"labels":false,"title":null}},"y":{"datum":0,"type":"quantitative","scale":{"domain":[-0.15,0.15],"nice":false},"axis":{"orient":"right","values":[-0.1,0,0.1],"labels":false,"title":null}}}}
 ]},
 {"width":276,"height":78,"resolve":{"axis":{"x":"independent","y":"independent"}},"layer":[
  {"data":{"values":[{}]},"mark":{"type":"rule","color":"#444","strokeWidth":1},"encoding":{"y":{"datum":0,"type":"quantitative","scale":{"domain":[-0.15,0.15],"nice":false},"axis":null}}},
  {"data":{"values":[{}]},"mark":{"type":"rule","color":"#000","strokeWidth":1.2},"encoding":{"x":{"datum":0,"type":"quantitative","scale":{"domain":[-4,2],"nice":false,"zero":false},"axis":null}}},
  {"data":{"name":"d"},"transform":[{"filter":"datum.p==='RM'&&datum.s==='S'"}],"mark":{"type":"line","color":"#ff2020","strokeWidth":1.2,"clip":true},"encoding":{"x":{"field":"x","type":"quantitative","scale":{"domain":[-4,2],"nice":false,"zero":false},"axis":{"values":[-3,-2,-1,0,1],"labels":false,"title":null}},"y":{"field":"y","type":"quantitative","scale":{"domain":[-0.15,0.15],"nice":false},"axis":{"values":[-0.1,0,0.1],"labels":false,"title":null}}}},
  {"data":{"name":"d"},"transform":[{"filter":"datum.p==='RM'&&datum.s==='V'"}],"mark":{"type":"line","color":"#1f8f8c","strokeWidth":2,"clip":true},"encoding":{"x":{"field":"x","type":"quantitative","scale":{"domain":[-4,2],"nice":false,"zero":false},"axis":null},"y":{"field":"y","type":"quantitative","scale":{"domain":[-0.15,0.15],"nice":false},"axis":null}}},
  {"data":{"values":[{}]},"mark":{"type":"text","fontSize":17,"align":"left","baseline":"middle"},"encoding":{"x":{"datum":-3.78,"type":"quantitative","scale":{"domain":[-4,2],"nice":false,"zero":false},"axis":null},"y":{"datum":0.1,"type":"quantitative","scale":{"domain":[-0.15,0.15],"nice":false},"axis":null},"text":{"value":"spin-down"}}},
  {"data":{"values":[{}]},"mark":{"type":"point","opacity":0},"encoding":{"x":{"datum":0,"type":"quantitative","scale":{"domain":[-4,2],"nice":false,"zero":false},"axis":{"orient":"top","values":[-3,-2,-1,0,1],"labels":false,"title":null}},"y":{"datum":0,"type":"quantitative","scale":{"domain":[-0.15,0.15],"nice":false},"axis":{"orient":"right","values":[-0.1,0,0.1],"labels":false,"title":null}}}}
 ]},
 {"width":276,"height":197,"resolve":{"axis":{"x":"independent","y":"independent"}},"layer":[
  {"data":{"values":[{}]},"mark":{"type":"rule","color":"#000","strokeWidth":1.2},"encoding":{"y":{"datum":0,"type":"quantitative","scale":{"domain":[-2.5,2.5],"nice":false},"axis":null}}},
  {"data":{"values":[{}]},"mark":{"type":"rule","color":"#000","strokeWidth":1.2},"encoding":{"x":{"datum":0,"type":"quantitative","scale":{"domain":[-4,2],"nice":false,"zero":false},"axis":null}}},
  {"data":{"name":"d"},"transform":[{"filter":"datum.p==='RB'&&(datum.s==='Su'||datum.s==='Sd')"}],"mark":{"type":"line","color":"#ff2020","strokeWidth":1.3,"clip":true,"interpolate":"monotone"},"encoding":{"detail":{"field":"s"},"x":{"field":"x","type":"quantitative","scale":{"domain":[-4,2],"nice":false,"zero":false},"axis":{"values":[-4,-3,-2,-1,0,1,2],"format":"d","labelPadding":7,"title":"Energy (eV)","titlePadding":2,"titleFontSize":17.5}},"y":{"field":"y","type":"quantitative","scale":{"domain":[-2.5,2.5],"nice":false},"axis":{"values":[-2,-1,0,1,2],"labels":false,"title":null}}}},
  {"data":{"name":"d"},"transform":[{"filter":"datum.p==='RB'&&(datum.s==='Su'||datum.s==='Sd')"}],"mark":{"type":"line","color":"#2020ff","strokeWidth":1.2,"strokeDash":[4,3],"clip":true,"interpolate":"monotone"},"encoding":{"detail":{"field":"s"},"x":{"field":"x","type":"quantitative","scale":{"domain":[-4,2],"nice":false,"zero":false},"axis":null},"y":{"field":"y","type":"quantitative","scale":{"domain":[-2.5,2.5],"nice":false},"axis":null}}},
  {"data":{"name":"d"},"transform":[{"filter":"datum.p==='RB'&&(datum.s==='Tu'||datum.s==='Td')"}],"mark":{"type":"line","color":"#1f8f8c","strokeWidth":2,"clip":true,"interpolate":"monotone"},"encoding":{"detail":{"field":"s"},"x":{"field":"x","type":"quantitative","scale":{"domain":[-4,2],"nice":false,"zero":false},"axis":null},"y":{"field":"y","type":"quantitative","scale":{"domain":[-2.5,2.5],"nice":false},"axis":null}}},
  {"data":{"name":"d"},"transform":[{"filter":"datum.p==='RB'&&(datum.s==='Nu'||datum.s==='Nd')"}],"mark":{"type":"line","color":"#141e4a","strokeWidth":1.6,"strokeDash":[3,2],"clip":true,"interpolate":"monotone"},"encoding":{"detail":{"field":"s"},"x":{"field":"x","type":"quantitative","scale":{"domain":[-4,2],"nice":false,"zero":false},"axis":null},"y":{"field":"y","type":"quantitative","scale":{"domain":[-2.5,2.5],"nice":false},"axis":null}}},
  {"data":{"values":[{}]},"mark":{"type":"text","fontSize":18,"fontStyle":"italic","align":"left","baseline":"middle"},"encoding":{"x":{"datum":-1.06,"type":"quantitative","scale":{"domain":[-4,2],"nice":false,"zero":false},"axis":null},"y":{"datum":1.22,"type":"quantitative","scale":{"domain":[-2.5,2.5],"nice":false},"axis":null},"text":{"value":"S"}}},
  {"data":{"values":[{}]},"mark":{"type":"text","fontSize":12,"align":"left","baseline":"middle","dx":11,"dy":7},"encoding":{"x":{"datum":-1.06,"type":"quantitative","scale":{"domain":[-4,2],"nice":false,"zero":false},"axis":null},"y":{"datum":1.22,"type":"quantitative","scale":{"domain":[-2.5,2.5],"nice":false},"axis":null},"text":{"value":"+"}}},
  {"data":{"values":[{}]},"mark":{"type":"text","fontSize":17,"align":"left","baseline":"middle"},"encoding":{"x":{"datum":0.376,"type":"quantitative","scale":{"domain":[-4,2],"nice":false,"zero":false},"axis":null},"y":{"datum":0.61,"type":"quantitative","scale":{"domain":[-2.5,2.5],"nice":false},"axis":null},"text":{"value":"Vac.(x10)"}}},
  {"data":{"values":[{}]},"mark":{"type":"point","opacity":0},"encoding":{"x":{"datum":0,"type":"quantitative","scale":{"domain":[-4,2],"nice":false,"zero":false},"axis":{"orient":"top","values":[-3,-2,-1,0,1],"labels":false,"title":null}},"y":{"datum":0,"type":"quantitative","scale":{"domain":[-2.5,2.5],"nice":false},"axis":{"orient":"right","values":[-2,-1,0,1,2],"labels":false,"title":null}}}}
 ]}
],"spacing":14,"bounds":"flush","title":{"text":"(b) Positive electrode side","orient":"bottom","offset":13,"frame":"group"}}
]
}
